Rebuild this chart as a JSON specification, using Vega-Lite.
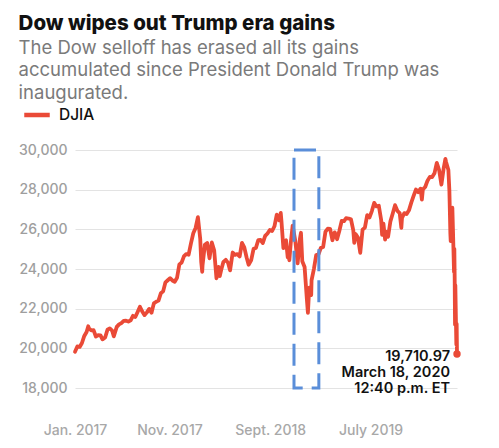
{
  "$schema": "https://vega.github.io/schema/vega-lite/v6.json",
  "width": 382,
  "height": 238,
  "autosize": {"type": "none"},
  "padding": {"left": 75, "top": 150, "right": 42, "bottom": 60},
  "background": "white",
  "config": {
    "font": "Inter",
    "view": {"stroke": null},
    "axisY": {"tickCount": 7, "labelOverlap": false, "labelFlush": false, "gridColor": "#e3e3e3", "gridWidth": 1, "domain": false, "ticks": false, "labelPadding": 8, "labelFontSize": 14, "labelFontWeight": 500, "labelColor": "#9e9e9e", "title": null},
    "axisX": {"labelOverlap": false, "labelFlush": false, "domain": false, "ticks": false, "grid": false, "labelPadding": 35, "labelFontSize": 14, "labelFontWeight": 500, "labelColor": "#a8a8a8", "title": null}
  },
  "title": {
    "text": "Dow wipes out Trump era gains",
    "subtitle": ["The Dow selloff has erased all its gains", "accumulated since President Donald Trump was", "inaugurated."],
    "anchor": "start",
    "frame": "bounds",
    "font": "Inter",
    "fontSize": 20.5,
    "fontWeight": 800,
    "color": "#111111",
    "subtitleFont": "Inter",
    "subtitleFontSize": 18.5,
    "subtitleColor": "#7a7a7a",
    "subtitleLineHeight": 22.5,
    "subtitlePadding": 4,
    "offset": -2
  },
  "datasets": {
    "dow": [
      {"date": "2017-01-20", "value": 19827}, {"date": "2017-01-27", "value": 20094}, {"date": "2017-02-03", "value": 20071},
      {"date": "2017-02-10", "value": 20269}, {"date": "2017-02-17", "value": 20624}, {"date": "2017-02-24", "value": 20822},
      {"date": "2017-03-01", "value": 21115}, {"date": "2017-03-03", "value": 21006}, {"date": "2017-03-10", "value": 20903},
      {"date": "2017-03-17", "value": 20915}, {"date": "2017-03-24", "value": 20597}, {"date": "2017-03-31", "value": 20663},
      {"date": "2017-04-07", "value": 20656}, {"date": "2017-04-13", "value": 20453}, {"date": "2017-04-21", "value": 20548},
      {"date": "2017-04-28", "value": 20941}, {"date": "2017-05-05", "value": 21007}, {"date": "2017-05-12", "value": 20897},
      {"date": "2017-05-17", "value": 20606}, {"date": "2017-05-26", "value": 21080}, {"date": "2017-06-02", "value": 21206},
      {"date": "2017-06-09", "value": 21272}, {"date": "2017-06-16", "value": 21384}, {"date": "2017-06-23", "value": 21395},
      {"date": "2017-06-30", "value": 21350}, {"date": "2017-07-07", "value": 21414}, {"date": "2017-07-14", "value": 21638},
      {"date": "2017-07-21", "value": 21580}, {"date": "2017-07-28", "value": 21830}, {"date": "2017-08-04", "value": 22093},
      {"date": "2017-08-11", "value": 21858}, {"date": "2017-08-18", "value": 21675}, {"date": "2017-08-25", "value": 21814},
      {"date": "2017-09-01", "value": 21988}, {"date": "2017-09-08", "value": 21798}, {"date": "2017-09-15", "value": 22268},
      {"date": "2017-09-22", "value": 22350}, {"date": "2017-09-29", "value": 22405}, {"date": "2017-10-06", "value": 22774},
      {"date": "2017-10-13", "value": 22871}, {"date": "2017-10-20", "value": 23329}, {"date": "2017-10-27", "value": 23434},
      {"date": "2017-11-03", "value": 23539}, {"date": "2017-11-10", "value": 23422}, {"date": "2017-11-17", "value": 23358},
      {"date": "2017-11-24", "value": 23558}, {"date": "2017-12-01", "value": 24232}, {"date": "2017-12-08", "value": 24329},
      {"date": "2017-12-15", "value": 24651}, {"date": "2017-12-22", "value": 24754}, {"date": "2017-12-29", "value": 24719},
      {"date": "2018-01-05", "value": 25295}, {"date": "2018-01-12", "value": 25803}, {"date": "2018-01-19", "value": 26072},
      {"date": "2018-01-26", "value": 26616}, {"date": "2018-02-02", "value": 25521}, {"date": "2018-02-05", "value": 24346},
      {"date": "2018-02-08", "value": 23860}, {"date": "2018-02-09", "value": 24191}, {"date": "2018-02-16", "value": 25219},
      {"date": "2018-02-23", "value": 25310}, {"date": "2018-03-02", "value": 24538}, {"date": "2018-03-09", "value": 25336},
      {"date": "2018-03-16", "value": 24947}, {"date": "2018-03-23", "value": 23533}, {"date": "2018-03-29", "value": 24103},
      {"date": "2018-04-02", "value": 23644}, {"date": "2018-04-06", "value": 23933}, {"date": "2018-04-13", "value": 24360},
      {"date": "2018-04-20", "value": 24463}, {"date": "2018-04-27", "value": 24311}, {"date": "2018-05-03", "value": 23930},
      {"date": "2018-05-11", "value": 24831}, {"date": "2018-05-18", "value": 24715}, {"date": "2018-05-25", "value": 24753},
      {"date": "2018-06-01", "value": 24635}, {"date": "2018-06-08", "value": 25317}, {"date": "2018-06-15", "value": 25090},
      {"date": "2018-06-22", "value": 24581}, {"date": "2018-06-28", "value": 24216}, {"date": "2018-07-06", "value": 24456},
      {"date": "2018-07-13", "value": 25019}, {"date": "2018-07-20", "value": 25058}, {"date": "2018-07-27", "value": 25451},
      {"date": "2018-08-03", "value": 25463}, {"date": "2018-08-10", "value": 25313}, {"date": "2018-08-17", "value": 25669},
      {"date": "2018-08-24", "value": 25790}, {"date": "2018-08-31", "value": 25965}, {"date": "2018-09-07", "value": 25917},
      {"date": "2018-09-14", "value": 26155}, {"date": "2018-09-21", "value": 26743}, {"date": "2018-09-28", "value": 26458},
      {"date": "2018-10-03", "value": 26828}, {"date": "2018-10-05", "value": 26447}, {"date": "2018-10-11", "value": 25052},
      {"date": "2018-10-12", "value": 25340}, {"date": "2018-10-19", "value": 25444}, {"date": "2018-10-24", "value": 24583},
      {"date": "2018-10-26", "value": 24688}, {"date": "2018-10-29", "value": 24443}, {"date": "2018-11-02", "value": 25271},
      {"date": "2018-11-08", "value": 26191}, {"date": "2018-11-16", "value": 25413}, {"date": "2018-11-23", "value": 24286},
      {"date": "2018-11-30", "value": 25538}, {"date": "2018-12-03", "value": 25826}, {"date": "2018-12-07", "value": 24389},
      {"date": "2018-12-14", "value": 24101}, {"date": "2018-12-21", "value": 22445}, {"date": "2018-12-24", "value": 21792},
      {"date": "2018-12-28", "value": 23062}, {"date": "2019-01-03", "value": 22686}, {"date": "2019-01-04", "value": 23433},
      {"date": "2019-01-11", "value": 23996}, {"date": "2019-01-18", "value": 24706}, {"date": "2019-01-25", "value": 24737},
      {"date": "2019-02-01", "value": 25064}, {"date": "2019-02-08", "value": 25106}, {"date": "2019-02-15", "value": 25883},
      {"date": "2019-02-22", "value": 26031}, {"date": "2019-03-01", "value": 26026}, {"date": "2019-03-08", "value": 25450},
      {"date": "2019-03-15", "value": 25849}, {"date": "2019-03-22", "value": 25502}, {"date": "2019-03-29", "value": 25929},
      {"date": "2019-04-05", "value": 26425}, {"date": "2019-04-12", "value": 26412}, {"date": "2019-04-18", "value": 26560},
      {"date": "2019-04-26", "value": 26543}, {"date": "2019-05-03", "value": 26505}, {"date": "2019-05-10", "value": 25942},
      {"date": "2019-05-13", "value": 25324}, {"date": "2019-05-17", "value": 25764}, {"date": "2019-05-24", "value": 25586},
      {"date": "2019-05-31", "value": 24815}, {"date": "2019-06-07", "value": 25984}, {"date": "2019-06-14", "value": 26090},
      {"date": "2019-06-21", "value": 26719}, {"date": "2019-06-28", "value": 26600}, {"date": "2019-07-05", "value": 26922},
      {"date": "2019-07-12", "value": 27332}, {"date": "2019-07-19", "value": 27154}, {"date": "2019-07-26", "value": 27192},
      {"date": "2019-08-02", "value": 26485}, {"date": "2019-08-05", "value": 25718}, {"date": "2019-08-09", "value": 26287},
      {"date": "2019-08-14", "value": 25479}, {"date": "2019-08-16", "value": 25886}, {"date": "2019-08-23", "value": 25629},
      {"date": "2019-08-30", "value": 26403}, {"date": "2019-09-06", "value": 26797}, {"date": "2019-09-13", "value": 27220},
      {"date": "2019-09-20", "value": 26935}, {"date": "2019-09-27", "value": 26820}, {"date": "2019-10-02", "value": 26078},
      {"date": "2019-10-04", "value": 26573}, {"date": "2019-10-11", "value": 26817}, {"date": "2019-10-18", "value": 26770},
      {"date": "2019-10-25", "value": 26958}, {"date": "2019-11-01", "value": 27347}, {"date": "2019-11-08", "value": 27681},
      {"date": "2019-11-15", "value": 28005}, {"date": "2019-11-22", "value": 27876}, {"date": "2019-11-29", "value": 28051},
      {"date": "2019-12-03", "value": 27503}, {"date": "2019-12-06", "value": 28015}, {"date": "2019-12-13", "value": 28135},
      {"date": "2019-12-20", "value": 28455}, {"date": "2019-12-27", "value": 28645}, {"date": "2020-01-03", "value": 28634},
      {"date": "2020-01-10", "value": 28824}, {"date": "2020-01-17", "value": 29348}, {"date": "2020-01-24", "value": 28990},
      {"date": "2020-01-31", "value": 28256}, {"date": "2020-02-07", "value": 29103}, {"date": "2020-02-12", "value": 29551},
      {"date": "2020-02-14", "value": 29398}, {"date": "2020-02-21", "value": 28992}, {"date": "2020-02-24", "value": 27961},
      {"date": "2020-02-27", "value": 25767}, {"date": "2020-02-28", "value": 25409}, {"date": "2020-03-03", "value": 25917},
      {"date": "2020-03-04", "value": 27091}, {"date": "2020-03-06", "value": 25865}, {"date": "2020-03-09", "value": 23851},
      {"date": "2020-03-10", "value": 25018}, {"date": "2020-03-11", "value": 23553}, {"date": "2020-03-12", "value": 21200},
      {"date": "2020-03-13", "value": 23185}, {"date": "2020-03-16", "value": 20189}, {"date": "2020-03-17", "value": 21237},
      {"date": "2020-03-18", "value": 19710.97}
    ],
    "box": [
      {"start": "2018-11-12", "end": "2019-01-26", "low": 18000, "high": 30000}
    ],
    "last": [
      {"date": "2020-03-18", "value": 19710.97, "label": ["19,710.97", "March 18, 2020", "12:40 p.m. ET"]}
    ]
  },
  "layer": [
    {
      "data": {"name": "dow"},
      "mark": {"type": "line", "strokeWidth": 3.8, "strokeJoin": "round", "strokeCap": "round"},
      "encoding": {
        "x": {
          "field": "date", "type": "temporal",
          "scale": {"type": "utc", "domain": [{"year": 2017, "month": 1, "date": 20, "utc": true}, {"year": 2020, "month": 3, "date": 18, "utc": true}]},
          "axis": {
            "values": [
              {"year": 2017, "month": 1, "date": 20, "utc": true},
              {"year": 2017, "month": 11, "date": 1, "utc": true},
              {"year": 2018, "month": 9, "date": 1, "utc": true},
              {"year": 2019, "month": 7, "date": 1, "utc": true}
            ],
            "labelExpr": "['Jan.','Feb.','March','April','May','June','July','Aug.','Sept.','Oct.','Nov.','Dec.'][utcmonth(datum.value)] + ' ' + utcyear(datum.value)",
            "labelAlign": "center"
          }
        },
        "y": {
          "field": "value", "type": "quantitative",
          "scale": {"domain": [18000, 30000], "zero": false, "nice": false},
          "axis": {"values": [18000, 20000, 22000, 24000, 26000, 28000, 30000], "tickCount": 7, "format": ",d", "grid": true, "labelOverlap": false}
        },
        "color": {
          "datum": "DJIA", "type": "nominal",
          "scale": {"range": ["#ea4a37"]},
          "legend": {
            "title": null, "orient": "none", "legendX": -53, "legendY": -50,
            "symbolType": "stroke", "symbolStrokeWidth": 4.5, "symbolSize": 650,
            "labelFontSize": 15.5, "labelFontWeight": 500, "labelColor": "#111111", "labelOffset": 7
          }
        }
      }
    },
    {
      "data": {"name": "box"},
      "mark": {"type": "rect", "fill": null, "filled": false, "stroke": "#5a8ed9", "strokeWidth": 3, "strokeDash": [22, 9]},
      "encoding": {
        "x": {"field": "start", "type": "temporal"},
        "x2": {"field": "end"},
        "y": {"field": "low", "type": "quantitative", "axis": {"values": [18000, 20000, 22000, 24000, 26000, 28000, 30000], "tickCount": 7, "format": ",d", "grid": true, "labelOverlap": false}},
        "y2": {"field": "high"}
      }
    },
    {
      "data": {"name": "last"},
      "mark": {"type": "point", "filled": true, "size": 55, "color": "#ea4a37", "opacity": 1},
      "encoding": {
        "x": {"field": "date", "type": "temporal"},
        "y": {"field": "value", "type": "quantitative", "axis": {"values": [18000, 20000, 22000, 24000, 26000, 28000, 30000], "tickCount": 7, "format": ",d", "grid": true, "labelOverlap": false}}
      }
    },
    {
      "data": {"name": "last"},
      "mark": {"type": "text", "align": "right", "baseline": "top", "dx": -7, "dy": -4, "fontSize": 14.5, "fontWeight": 600, "lineHeight": 16, "color": "#111111", "font": "Inter"},
      "encoding": {
        "x": {"field": "date", "type": "temporal"},
        "y": {"field": "value", "type": "quantitative", "axis": {"values": [18000, 20000, 22000, 24000, 26000, 28000, 30000], "tickCount": 7, "format": ",d", "grid": true, "labelOverlap": false}},
        "text": {"field": "label"}
      }
    }
  ]
}
